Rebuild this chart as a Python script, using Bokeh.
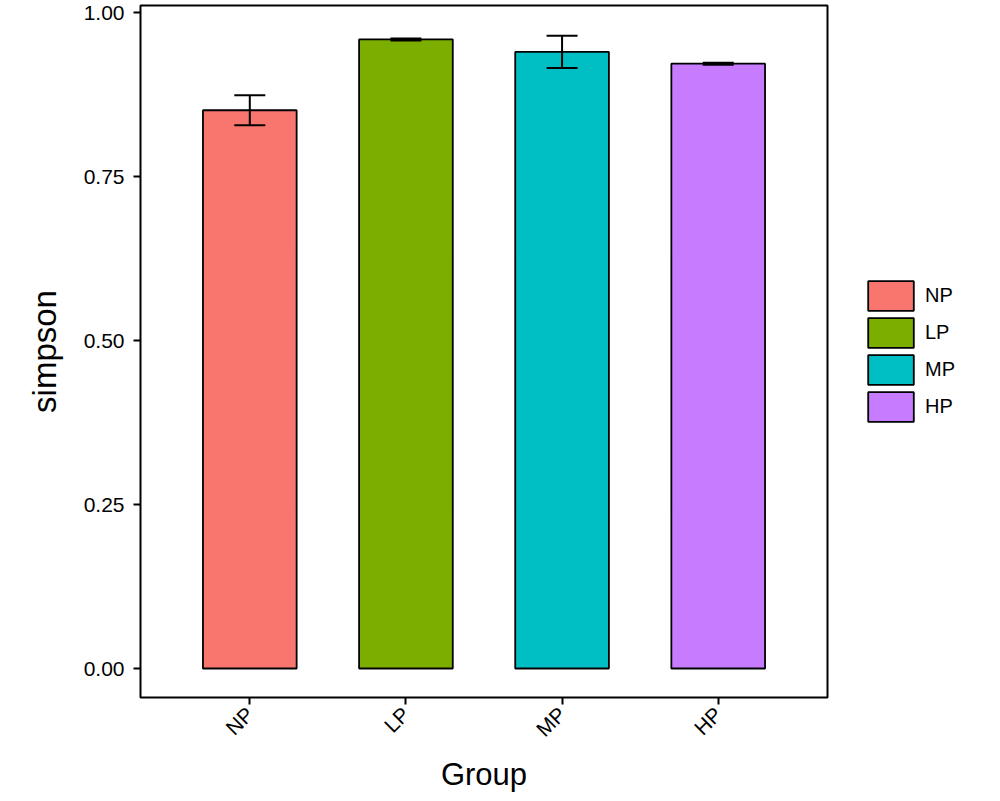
import math
from bokeh.plotting import figure
from bokeh.models import (ColumnDataSource, FactorRange, Range1d, Whisker, TeeHead,
                          Legend, LegendItem, FixedTicker, NumeralTickFormatter)
from bokeh.embed import file_html
from bokeh.resources import INLINE

groups = ["NP", "LP", "MP", "HP"]
simpson = [0.851, 0.959, 0.940, 0.922]
se = [0.023, 0.0015, 0.0245, 0.0015]
colors = ["#F8766D", "#7CAE00", "#00BFC4", "#C77CFF"]
y_ticks = [0.0, 0.25, 0.50, 0.75, 1.00]

FONT = "Liberation Sans"

src = ColumnDataSource(dict(
    group=groups,
    simpson=simpson,
    upper=[m + s for m, s in zip(simpson, se)],
    lower=[m - s for m, s in zip(simpson, se)],
    color=colors,
))

p = figure(frame_width=687, frame_height=692,
           x_range=FactorRange(*groups, range_padding=0.2, range_padding_units="absolute"),
           y_range=Range1d(-0.0442, 1.0107),
           output_backend="svg", toolbar_location=None,
           min_border_left=140, min_border_right=165, min_border_top=5, min_border_bottom=80)

bars = p.vbar(x="group", top="simpson", bottom=0, width=0.6, source=src,
              fill_color="color", line_color="black", line_width=1.8)

wh = Whisker(base="group", upper="upper", lower="lower", source=src,
             line_color="black", line_width=2, level="overlay",
             upper_head=TeeHead(size=31, line_color="black", line_width=2),
             lower_head=TeeHead(size=31, line_color="black", line_width=2))
p.add_layout(wh)

items = [LegendItem(label=g, renderers=[bars], index=i) for i, g in enumerate(groups)]
legend = Legend(items=items, location="center_left", orientation="vertical",
                glyph_width=57, glyph_height=37, spacing=0, padding=0, margin=35,
                label_standoff=6, label_text_font_size="20px", label_text_font=FONT,
                label_text_color="black", border_line_color=None,
                background_fill_alpha=0)
p.add_layout(legend, "right")

p.xgrid.visible = False
p.ygrid.visible = False
p.outline_line_color = "black"
p.outline_line_width = 2
p.background_fill_color = "white"

p.yaxis.ticker = FixedTicker(ticks=y_ticks)
p.yaxis.formatter = NumeralTickFormatter(format="0.00")
for ax in (p.xaxis[0], p.yaxis[0]):
    ax.axis_line_color = None
    ax.major_tick_in = 0
    ax.major_tick_out = 7
    ax.major_tick_line_width = 2
    ax.major_tick_line_color = "black"
    ax.minor_tick_line_color = None
    ax.major_label_text_font = FONT
    ax.major_label_text_font_size = "21px"
    ax.major_label_text_color = "black"
    ax.axis_label_text_font = FONT
    ax.axis_label_text_font_style = "normal"
    ax.axis_label_text_color = "black"

p.yaxis.axis_label_text_font_size = "33px"
p.yaxis.major_label_standoff = 9
p.yaxis.axis_label_standoff = 18
p.yaxis.axis_label = "simpson"

p.xaxis.axis_label_text_font_size = "31px"
p.xaxis.major_label_standoff = 6
p.xaxis.axis_label_standoff = 5
p.xaxis.axis_label = "Group"
p.xaxis.major_label_orientation = math.pi / 4

open("out.html", "w").write(file_html(p, INLINE))
